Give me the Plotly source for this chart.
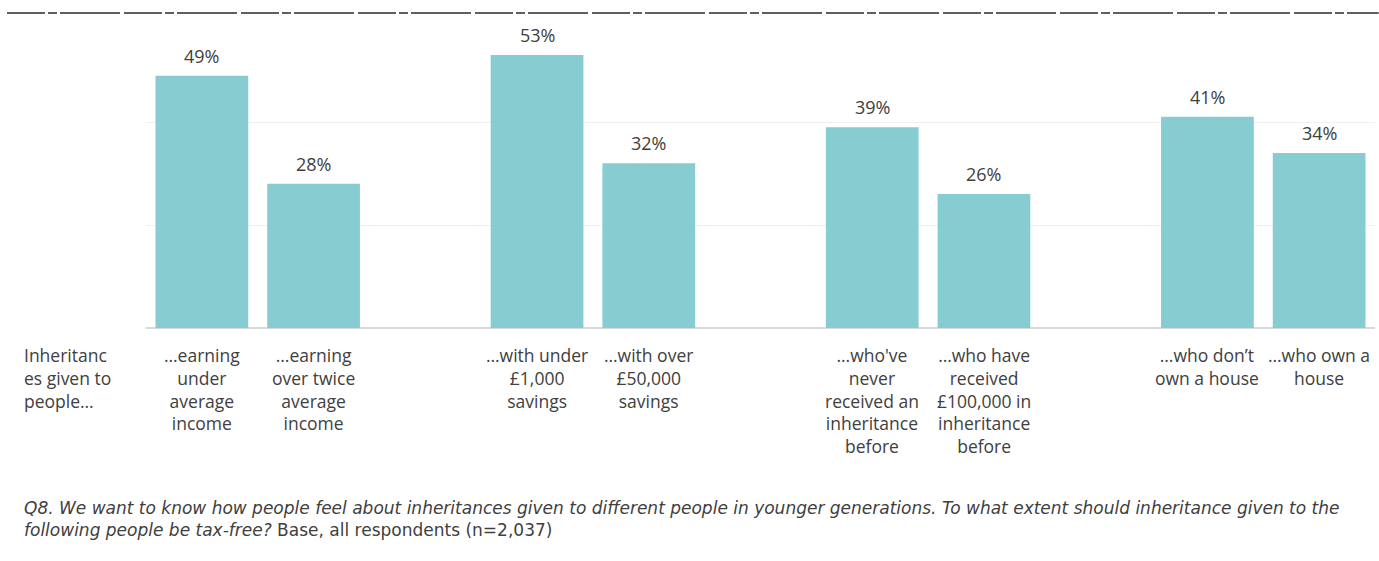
import plotly.graph_objects as go

# Category slots: bars sit in pairs, with an empty slot between groups
slots = [0, 1, 3, 4, 6, 7, 9, 10]
categories = [
    "…earning<br>under<br>average<br>income",
    "…earning<br>over twice<br>average<br>income",
    "…with under<br>£1,000<br>savings",
    "…with over<br>£50,000<br>savings",
    "…who've<br>never<br>received an<br>inheritance<br>before",
    "…who have<br>received<br>£100,000 in<br>inheritance<br>before",
    "…who don’t<br>own a house",
    "…who own a<br>house",
]
values = [49, 28, 53, 32, 39, 26, 41, 34]
row_title = "Inheritanc<br>es given to<br>people…"
footnote = ("<i>Q8. We want to know how people feel about inheritances given to different people "
            "in younger generations. To what extent should inheritance given to the<br>"
            "following people be tax-free?</i> Base, all respondents (n=2,037)")

BAR = "#87CCD0"
INK = "#404040"
FONT = "'Open Sans', 'Noto Sans', sans-serif"
NOTE_FONT = "'DejaVu Sans', sans-serif"

# Plot area in pixels: x from 146 to 1375, y from 19 to 328
PLOT_L, PLOT_W = 146, 1229

fig = go.Figure(
    go.Bar(
        x=slots,
        y=values,
        marker=dict(color=BAR, line=dict(width=0)),
        width=0.83,
        hoverinfo="skip",
    )
)

# Value labels above the bars
for s, v in zip(slots, values):
    fig.add_annotation(
        x=s, y=v, xref="x", yref="y", text=f"{v}%", showarrow=False,
        xanchor="center", yanchor="bottom", yshift=6,
        font=dict(size=18, color=INK, family=FONT),
    )

# Category labels under each bar
for s, c in zip(slots, categories):
    fig.add_annotation(
        x=s, xref="x", y=-0.043, yref="paper",
        text=c, showarrow=False, xanchor="center", yanchor="top",
        align="center", font=dict(size=17.5, color=INK, family=FONT),
    )

# Row heading at the far left
fig.add_annotation(
    x=(22 - PLOT_L) / PLOT_W, xref="paper", y=-0.043, yref="paper", text=row_title,
    showarrow=False, xanchor="left", yanchor="top", align="left",
    font=dict(size=17.5, color=INK, family=FONT),
)

# Question text
fig.add_annotation(
    x=(22 - PLOT_L) / PLOT_W, xref="paper", y=-0.545, yref="paper", text=footnote,
    showarrow=False, xanchor="left", yanchor="top", align="left",
    font=dict(size=17, color=INK, family=NOTE_FONT),
)

# Rule across the top of the slide
fig.add_shape(
    type="line", xref="paper", yref="paper",
    x0=(7 - PLOT_L) / PLOT_W, x1=1.003, y0=1.0194, y1=1.0194,
    line=dict(color="#2b2b2b", width=1.5, dash="38px,3px,9px,3px,60px,4px"),
)

fig.update_layout(
    width=1379, height=561,
    margin=dict(l=146, r=4, t=19, b=233),
    paper_bgcolor="white", plot_bgcolor="white",
    showlegend=False,
    font=dict(family=FONT, color=INK),
    xaxis=dict(range=[-0.5, 10.5], showticklabels=False, showgrid=False,
               zeroline=False, showline=False, ticks=""),
    yaxis=dict(range=[0, 60], tickvals=[0, 20, 40], showticklabels=False,
               showgrid=True, gridcolor="#f0f0f0", gridwidth=1,
               zeroline=True, zerolinecolor="#d9d9d9", zerolinewidth=2,
               showline=False, ticks=""),
)

fig.write_html("out.html")
